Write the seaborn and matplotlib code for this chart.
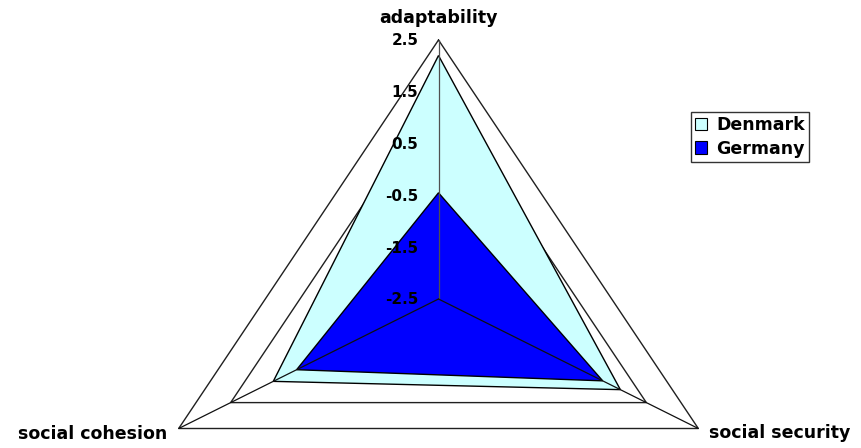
import numpy as np
import matplotlib
matplotlib.use("Agg")
import matplotlib.pyplot as plt
import seaborn as sns
from matplotlib.patches import Patch

# ---- data ----
categories = ["adaptability", "social security", "social cohesion"]
denmark = [2.2, 1.0, 0.68]
germany = [-0.45, 0.66, 0.23]
series_names = ["Denmark", "Germany"]
series_colors = ["#CCFFFF", "#0000FF"]
r_ticks = [-2.5, -1.5, -0.5, 0.5, 1.5, 2.5]
r_tick_labels = ["-2.5", "-1.5", "-0.5", "0.5", "1.5", "2.5"]

sns.set_style("white")
plt.rcParams["font.family"] = ["DejaVu Sans"]
plt.rcParams["font.weight"] = "bold"
plt.rcParams["text.color"] = "black"

W, H = 861, 448
fig = plt.figure(figsize=(W / 100, H / 100), dpi=100)
ax = fig.add_axes([138.5 / W, 1 - 558 / H, 600 / W, 518 / H], projection="polar")
ax.set_aspect("auto")
ax.set_theta_offset(np.pi / 2)
ax.set_theta_direction(-1)
ax.set_ylim(r_ticks[0], r_ticks[-1])
ax.grid(False)
ax.set_xticks([])
ax.set_yticks([])
ax.spines["polar"].set_visible(False)
ax.patch.set_visible(False)

n = len(categories)
theta = np.linspace(0, 2 * np.pi, n, endpoint=False)
theta_closed = np.append(theta, theta[0])

# polygon gridlines
for r in r_ticks[1:]:
    ax.plot(theta_closed, [r] * (n + 1), color="#202020", lw=1.0, zorder=1, clip_on=False)

# filled series
for vals, name, col in zip([denmark, germany], series_names, series_colors):
    v = np.append(vals, vals[0])
    ax.fill(theta_closed, v, facecolor=col, edgecolor="black", lw=1.0, zorder=2, clip_on=False)

# spokes
for i, t in enumerate(theta):
    ax.plot([t, t], [r_ticks[0], r_ticks[-1]], color="#505050" if i == 0 else "#101010",
            lw=0.9, zorder=3, clip_on=False)

# radial tick labels
for r, lbl in zip(r_ticks, r_tick_labels):
    ax.annotate(lbl, xy=(0, r), xytext=(-20, -5.5), textcoords="offset pixels",
                ha="right", va="baseline", fontsize=11, fontweight="bold", color="black",
                annotation_clip=False, zorder=4)

# category labels
offsets = [(0, 17, "center"), (11, -10, "left"), (-11, -10, "right")]
for t, cat, (dx, dy, ha) in zip(theta, categories, offsets):
    ax.annotate(cat, xy=(t, r_ticks[-1]), xytext=(dx, dy), textcoords="offset pixels",
                ha=ha, va="baseline", fontsize=12.5, fontweight="bold", color="black",
                annotation_clip=False)

handles = [Patch(facecolor=c, edgecolor="black", lw=0.8) for c in series_colors]
leg = fig.legend(handles, series_names, loc="upper left",
                 bbox_to_anchor=(691 / W, 1 - 112 / H), borderaxespad=0,
                 fontsize=12.5, frameon=True, fancybox=False, shadow=False,
                 handlelength=0.7, handleheight=0.7, handletextpad=0.5,
                 borderpad=0.25, labelspacing=0.3)
leg.get_frame().set_edgecolor("black")
leg.get_frame().set_linewidth(1.0)
for txt in leg.get_texts():
    txt.set_fontweight("bold")
    txt.set_color("black")

fig.savefig("out.png", dpi=100)
